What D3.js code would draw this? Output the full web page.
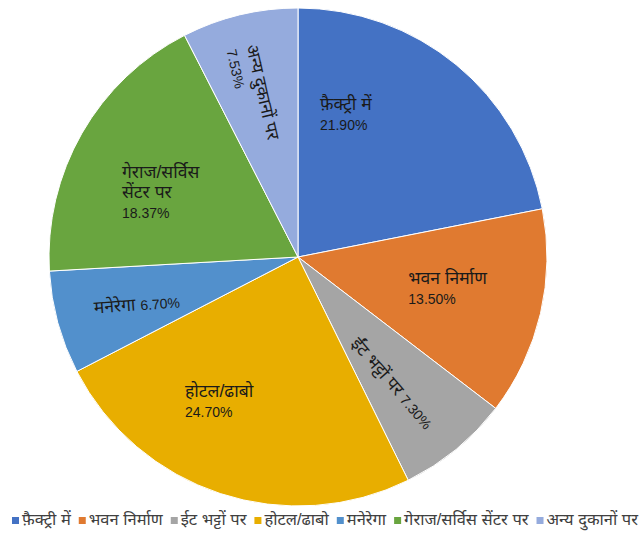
<!DOCTYPE html>
<html><head><meta charset="utf-8">
<script src="https://cdn.jsdelivr.net/npm/d3@7"></script>
<style>
html,body{margin:0;padding:0;background:#fff;}
svg{display:block;font-family:"Liberation Sans","Noto Sans",Arial,sans-serif;}
</style></head>
<body><svg id="c" width="643" height="536"></svg>
<script>
const categories = ["फ़ैक्ट्री में","भवन निर्माण","ईट भट्टों पर","होटल/ढाबो","मनेरेगा","गेराज/सर्विस सेंटर पर","अन्य दुकानों पर"];
const values = [21.90, 13.50, 7.30, 24.70, 6.70, 18.37, 7.53];
const labelLines = [["फ़ैक्ट्री में","21.90%"],["भवन निर्माण","13.50%"],["ईंट भट्टों पर 7.30%"],["होटल/ढाबो","24.70%"],["मनेरेगा 6.70%"],["गेराज/सर्विस","सेंटर पर","18.37%"],["अन्य दुकानों पर","7.53%"]];
const colors = ["#4472C4","#E07A30","#A5A5A5","#E8AE00","#5290CC","#69A53F","#95ABDD"];

// label layout: offset from pie centre as fraction of radius, rotation, anchor
const labelLayout = [
  {fx:0.088, fy:-0.59, rot:0, anchor:"start"},
  {fx:0.443, fy:0.108, rot:0, anchor:"start"},
  {fx:0.375, fy:0.51, rot:49, anchor:"middle", center:true},
  {fx:-0.454, fy:0.562, rot:0, anchor:"start"},
  {fx:-0.647, fy:0.195, rot:-4, anchor:"middle", center:true},
  {fx:-0.707, fy:-0.317, rot:0, anchor:"start"},
  {fx:-0.209, fy:-0.847, rot:77, anchor:"start"}
];

const W=643, H=536, cx=298, cy=257, R=249;
const DEV=17.5, LAT=14;
function runs(s){
  const out=[]; let cur=null;
  for(const ch of s){
    const c=ch.codePointAt(0);
    let type = (c>=0x900&&c<=0x97F)||c===0x200C||c===0x200D ? "d" : (/[\s\/]/.test(ch) ? null : "l");
    if(type===null) type = cur? cur.t : "l";
    if(!cur||cur.t!==type){ cur={t:type,s:""}; out.push(cur); }
    cur.s+=ch;
  }
  return out;
}
function fill(sel, s, dev, lat){
  runs(s).forEach(r=>sel.append("tspan").attr("font-size", r.t==="d"?dev:lat).text(r.s));
}
const svg = d3.select("#c");
const g = svg.append("g").attr("transform",`translate(${cx},${cy})`);
const pie = d3.pie().sort(null).value(d=>d);
const arc = d3.arc().innerRadius(0).outerRadius(R);
const color = d3.scaleOrdinal().domain(categories).range(colors);
const arcs = pie(values);
g.selectAll("path").data(arcs).join("path")
  .attr("d",arc).attr("fill",(d,i)=>color(categories[i]))
  .attr("stroke","#fff").attr("stroke-width",1);

const lh = 20;
arcs.forEach((a,i)=>{
  const L = labelLayout[i];
  const lines = labelLines[i];
  const x = L.fx*R, y = L.fy*R;
  const t = g.append("text")
    .attr("transform",`translate(${x},${y}) rotate(${L.rot})`)
    .attr("text-anchor",L.anchor)
    .attr("font-size",LAT).attr("fill","#1a1a1a");
  lines.forEach((s,k)=>{
    const ts = t.append("tspan").attr("x",0)
     .attr("y", L.center ? (k-(lines.length-1)/2)*lh : k*lh)
     .attr("dy", L.center ? "0.35em" : 0);
    fill(ts, s, DEV, LAT);
  });
});

// legend
const targetL = 12, targetR = 638, minGap = 6;
function buildLegend(dev, lat){
  svg.selectAll(".legend").remove();
  const lg = svg.append("g").attr("class","legend").attr("transform",`translate(0,521)`);
  const items = lg.selectAll("g").data(categories).join("g");
  items.append("rect").attr("width",7).attr("height",7).attr("y",-4)
    .attr("fill",(d)=>color(d));
  items.append("text").attr("x",10).attr("y",0).attr("dy","0.33em")
    .attr("font-size",lat).attr("fill","#404040").each(function(d){ fill(d3.select(this), d, dev, lat); });
  const widths = [];
  items.each(function(){ widths.push(10 + d3.select(this).select("text").node().getComputedTextLength()); });
  return {items, widths};
}
let dev = 16.5, lat = 13.5;
let L = buildLegend(dev, lat);
let need = d3.sum(L.widths) + minGap*(L.widths.length-1);
if(need > targetR-targetL){
  const k = (targetR-targetL - minGap*(L.widths.length-1)) / d3.sum(L.widths);
  dev *= k; lat *= k;
  L = buildLegend(dev, lat);
}
const gap = Math.max(minGap,(targetR-targetL-d3.sum(L.widths))/(L.widths.length-1));
let xx = targetL;
L.items.each(function(d,i){ d3.select(this).attr("transform",`translate(${xx},0)`); xx += L.widths[i]+gap; });
</script></body></html>
